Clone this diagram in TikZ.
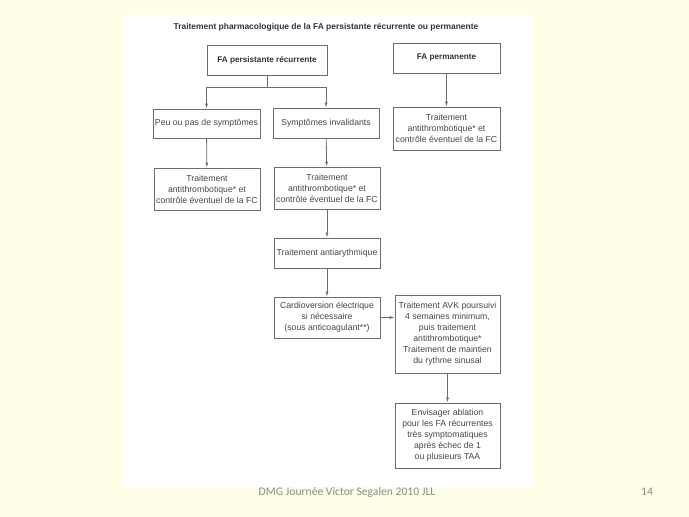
\documentclass[tikz,border=0pt]{standalone}
\usepackage{fontspec}
\setmainfont{Liberation Sans}
\newfontfamily\footfont{Carlito}
\usetikzlibrary{arrows.meta}
\definecolor{slidebg}{HTML}{FFFFE8}
\definecolor{inkgrey}{HTML}{474747}
\definecolor{linegrey}{HTML}{6E6E6E}
\definecolor{footgrey}{HTML}{8A8A8A}
\tikzset{
    box/.style={draw=linegrey,line width=0.8pt,fill=white,text=inkgrey,align=center,
        inner sep=0pt,minimum width=106pt,font=\fontsize{8.7}{11}\selectfont},
    headbox/.style={box,font=\fontsize{8.2}{11}\selectfont\bfseries,text=black!80},
    arr/.style={draw=linegrey,line width=0.8pt,-{Latex[length=5pt,width=3pt]}},
    link/.style={draw=linegrey,line width=0.8pt},
}

\begin{document}
\begin{tikzpicture}[x=1pt,y=-1pt]
            \useasboundingbox (0,0) rectangle (689,517);
            \fill[slidebg] (0,0) rectangle (689,517);
            \fill[white] (124,15) rectangle (532,487);
            % title
            \node[font=\fontsize{8.45}{10}\selectfont\bfseries,text=black!80] (title) at (326,27)
                {Traitement pharmacologique de la FA persistante récurrente ou permanente};
            % top row
            \node[headbox,minimum width=120pt,minimum height=30pt] (persist) at (267,60) {FA persistante récurrente};
            \node[headbox,minimum width=107pt,minimum height=30pt] (perm) at (446.5,58) {FA permanente};
            % second row
            \node[box,minimum width=107pt,minimum height=29pt] (few) at (206.5,123.5) {Peu ou pas de symptômes};
            \node[box,minimum height=30pt] (severe) at (326,123) {Symptômes invalidants};
            \node[box,minimum width=107pt,minimum height=43pt] (permtt) at (446.5,128.5)
                {Traitement\\antithrombotique* et\\contrôle éventuel de la FC};
            % third row
            \node[box,minimum height=42pt] (fewtt) at (207,189)
                {Traitement\\antithrombotique* et\\contrôle éventuel de la FC};
            \node[box,minimum height=42pt] (severett) at (327,188)
                {Traitement\\antithrombotique* et\\contrôle éventuel de la FC};
            \node[box,minimum height=30pt] (aar) at (327,253) {Traitement antiarythmique};
            \node[box,minimum height=41pt] (cv) at (327,317.5)
                {Cardioversion électrique\\si nécessaire\\(sous anticoagulant**)};
            \node[box,minimum width=105pt,minimum height=78pt] (avk) at (447.5,334)
                {Traitement AVK poursuivi\\4 semaines minimum,\\puis traitement\\antithrombotique*\\Traitement de maintien\\du rythme sinusal};
            \node[box,minimum width=105pt,minimum height=65pt] (abl) at (447.5,435.5)
                {Envisager ablation\\pour les FA récurrentes\\très symptomatiques\\après échec de 1\\ou plusieurs TAA};
            % connectors
            \coordinate (split) at ([yshift=-12pt]persist.south);
            \draw[link] (persist.south) -- (split);
            \draw[arr] (split) -| (few.north);
            \draw[arr] (split) -| (severe.north);
            \draw[arr] (perm) -- (permtt);
            \draw[arr] (few) -- (fewtt);
            \draw[arr] (severe) -- (severett);
            \draw[arr] (severett) -- (aar);
            \draw[arr] (aar) -- (cv);
            \draw[arr] (cv) -- (cv -| avk.west);
            \draw[arr] (avk) -- (abl);
            % footer
            \node[font=\footfont\fontsize{11.6}{13}\selectfont,text=footgrey] (foot) at (347,492)
                {DMG Journée Victor Segalen 2010 JLL};
            \node[font=\footfont\fontsize{11.6}{13}\selectfont,text=footgrey] (page) at (647,492) {14};
        \end{tikzpicture}
\end{document}
